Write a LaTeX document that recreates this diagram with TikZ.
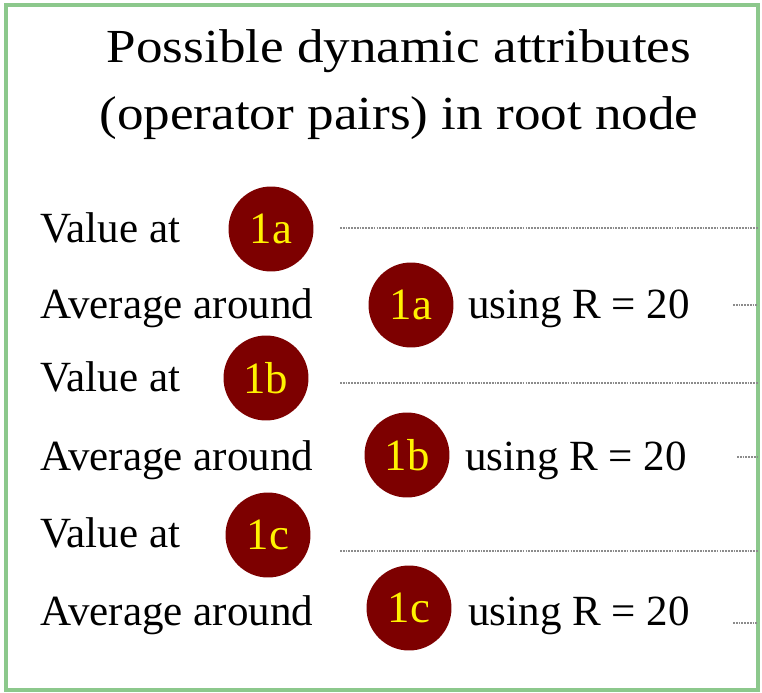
\documentclass[tikz,border=0pt]{standalone}
\usepackage{fontspec}
\setmainfont{Liberation Serif}
\usetikzlibrary{positioning}
\definecolor{opred}{RGB}{125,0,0}
\definecolor{boxgreen}{RGB}{140,200,140}
\begin{document}
\begin{tikzpicture}[x=0.02cm,y=-0.02cm,
  rowtxt/.style={anchor=base west,inner sep=0pt,font=\fontsize{24.5}{29}\selectfont},
  badge/.style={circle,fill=opred,text=yellow,minimum size=1.7cm,inner sep=0pt,font=\fontsize{25.5}{30}\selectfont},
  dotline/.style={gray!90,line width=1.4pt,dash pattern=on 1pt off 0.6pt}]
\useasboundingbox (0,0) rectangle (762,693);
\draw[boxgreen,line width=2pt] (6,5) rectangle (758,690);
% title
\node[anchor=base,inner sep=0pt,font=\fontsize{27}{32}\selectfont] (title1) at (399,62) {\scalebox{1.12}[1]{Possible dynamic attributes}};
\node[anchor=base,inner sep=0pt,font=\fontsize{27}{32}\selectfont] (title2) at (399,130) {\scalebox{1.12}[1]{(operator pairs) in root node}};
% one value row and one average row per point
\foreach \g/\vb/\vx/\vy/\vl/\ab/\ax/\ay/\ux/\dx/\dl in {a/242/271/229/228/318/411/305/468/733/305,b/391/266/378/383/470/407/455/465/737/457,c/547/268/535/551/625/409/608/468/733/623}
{
 \node[rowtxt] (val\g) at (40,\vb) {Value at};
 \node[badge] (pt\g) at (\vx,\vy) {1\g};
 \coordinate (vs\g) at (340,\vl);
 \coordinate (ve\g) at (758,\vl);
 \draw[dotline] (vs\g) -- (ve\g);
 \node[rowtxt] (avg\g) at (40,\ab) {Average around};
 \node[badge] (apt\g) at (\ax,\ay) {1\g};
 \node[rowtxt] (use\g) at (\ux,\ab) {using R = 20};
 \coordinate (as\g) at (\dx,\dl);
 \coordinate (ae\g) at (758,\dl);
 \draw[dotline] (as\g) -- (ae\g);
}
\end{tikzpicture}
\end{document}
